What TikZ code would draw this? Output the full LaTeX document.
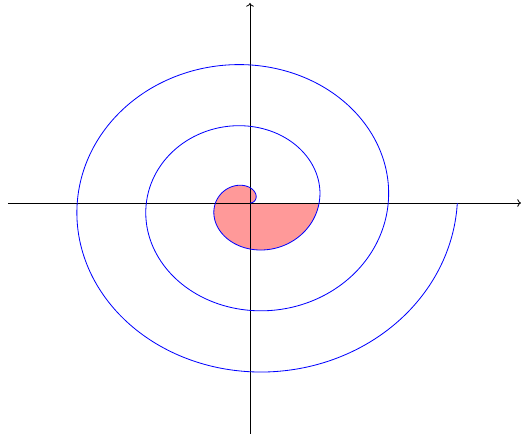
\documentclass[tikz,border=0pt]{standalone}
\usepackage{tikz}
\usetikzlibrary{
    arrows.meta
}

\begin{document}
\begin{tikzpicture}[
        >=To,
        axis/.style={
            ->,
            line width=0.7pt
        },
        spiral/.style={
            blue,
            line width=0.7pt,
            smooth,
            samples=400,
            variable=\t
        }
    ]
    \useasboundingbox (-7.5,-6.93) rectangle (8.16,6.09);

    \coordinate (O) at (0,0);
    \coordinate (xl) at (-7.26,0);
    \coordinate (xr) at (8.13,0);
    \coordinate (yb) at (0,-6.93);
    \coordinate (yt) at (0,6.0);

    \begin{scope}[x=0.33cm, y=0.293cm]
        \fill[red!40] plot[smooth, samples=150, variable=\t, domain=0:2*pi]
            ({\t*cos(\t r)}, {\t*sin(\t r)}) -- cycle;
    \end{scope}

    \draw[axis] (xl) -- (xr);
    \draw[axis] (yb) -- (yt);

    \begin{scope}[x=0.33cm, y=0.293cm]
        \draw[spiral] plot[domain=0:6*pi]
            ({\t*cos(\t r)}, {\t*sin(\t r)});
    \end{scope}

    \end{tikzpicture}
\end{document}
